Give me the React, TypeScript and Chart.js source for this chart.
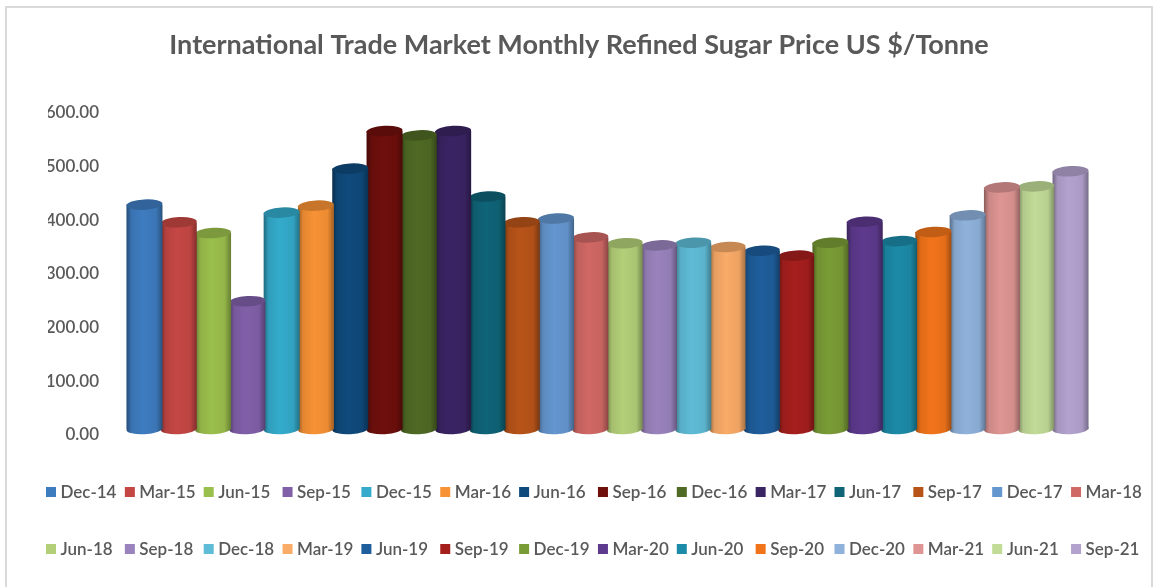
import React, { useEffect, useRef } from "react";
import { Chart, registerables } from "chart.js";

Chart.register(...registerables);

const categories = ["Refined Sugar Price"];
const periods = [
  "Dec-14", "Mar-15", "Jun-15", "Sep-15", "Dec-15", "Mar-16", "Jun-16", "Sep-16", "Dec-16", "Mar-17", "Jun-17", "Sep-17", "Dec-17", "Mar-18",
  "Jun-18", "Sep-18", "Dec-18", "Mar-19", "Jun-19", "Sep-19", "Dec-19", "Mar-20", "Jun-20", "Sep-20", "Dec-20", "Mar-21", "Jun-21", "Sep-21",
];
const prices = [
  418, 385, 365, 238, 403, 416, 485, 555, 547, 555, 433, 385, 392, 357,
  346, 342, 347, 339, 332, 323, 347, 386, 350, 367, 398, 450, 452, 480,
];
const colors = [
  "#3E7CC0", "#C54744", "#9BBF4C", "#8160A9", "#34ABCB", "#F79235", "#0F4A7C", "#6F0F0C", "#4F6A24", "#3B2464", "#0F6478", "#B85419", "#6496CF", "#D06865",
  "#B3CF78", "#9A83BD", "#5FBCD6", "#F9AB68", "#1E5E9C", "#A51F1D", "#7A9C36", "#5E3A8E", "#1C8BA8", "#F2741A", "#8FB2DC", "#DE9593", "#C2DB97", "#B3A2CE",
];
const titleText = "International Trade Market Monthly Refined Sugar Price US $/Tonne";
const TEXT = "#595959";
const FONT = "Lato";

function shade(hex: string, f: number) {
  const n = parseInt(hex.slice(1), 16);
  const c = [(n >> 16) & 255, (n >> 8) & 255, n & 255].map((v) => Math.round(v * f));
  return `rgb(${c[0]},${c[1]},${c[2]})`;
}

const TILT = -0.055;
const RY = 5.2;

function bodyGradient(ctx: CanvasRenderingContext2D, x: number, w: number, col: string) {
  const g = ctx.createLinearGradient(x - w / 2, 0, x + w / 2, 0);
  g.addColorStop(0, shade(col, 0.62));
  g.addColorStop(0.14, shade(col, 0.92));
  g.addColorStop(0.45, shade(col, 1));
  g.addColorStop(0.82, shade(col, 0.95));
  g.addColorStop(1, shade(col, 0.66));
  return g;
}

const cylinder = {
  id: "cylinder",
  beforeDatasetDraw(chart: any, args: any) {
    const ctx = chart.ctx;
    const el = args.meta.data[0];
    const col = colors[args.index];
    const { x, base, width } = el.getProps(["x", "base", "width"], true);
    const g = bodyGradient(ctx, x, width, col);
    el.options = { ...el.options, backgroundColor: g, borderWidth: 0 };
    ctx.save();
    ctx.fillStyle = g;
    ctx.beginPath();
    ctx.ellipse(x, base, width / 2, RY, TILT, 0, Math.PI * 2);
    ctx.fill();
    ctx.restore();
  },
  afterDatasetDraw(chart: any, args: any) {
    const ctx = chart.ctx;
    const el = args.meta.data[0];
    const col = colors[args.index];
    const { x, y, width } = el.getProps(["x", "y", "width"], true);
    ctx.save();
    ctx.fillStyle = shade(col, 0.8);
    ctx.beginPath();
    ctx.ellipse(x, y, width / 2, RY, TILT, 0, Math.PI * 2);
    ctx.fill();
    ctx.restore();
  },
};

const LEGEND_LEFT = 46;
const LEGEND_STEP = 78.85;
const LEGEND_ROWS = [492, 549];
const LEGEND_PER_ROW = 14;

const gridLegend = {
  id: "gridLegend",
  afterDraw(chart: any) {
    const ctx = chart.ctx;
    ctx.save();
    ctx.font = `600 17px ${FONT}`;
    ctx.textBaseline = "middle";
    ctx.textAlign = "left";
    chart.data.datasets.forEach((ds: any, i: number) => {
      const col = i % LEGEND_PER_ROW;
      const row = Math.floor(i / LEGEND_PER_ROW);
      const x = LEGEND_LEFT + col * LEGEND_STEP;
      const y = LEGEND_ROWS[row];
      ctx.fillStyle = colors[i];
      ctx.fillRect(x, y - 5, 10, 10);
      ctx.fillStyle = TEXT;
      ctx.fillText(ds.label, x + 14.5, y + 1);
    });
    ctx.restore();
  },
};

export default function App() {
  const ref = useRef<HTMLCanvasElement>(null);
  useEffect(() => {
    document.body.style.margin = "0";
    const chart = new Chart(ref.current!, {
      type: "bar",
      data: {
        labels: categories,
        datasets: periods.map((p, i) => ({
          label: p,
          data: [prices[i]],
          backgroundColor: colors[i],
          yAxisID: "yBars",
          barPercentage: 1.05,
          categoryPercentage: 0.9556,
        })),
      },
      plugins: [cylinder, gridLegend],
      options: {
        animation: false,
        responsive: false,
        devicePixelRatio: 1,
        layout: { padding: { top: 10, left: 48, right: 43, bottom: 152 } },
        plugins: {
          legend: { display: false },
          tooltip: { enabled: false },
          title: {
            display: true,
            text: titleText,
            color: TEXT,
            font: { family: FONT, size: 27, weight: "bold", lineHeight: 1.2 },
            padding: { top: 19, bottom: 51.5 },
          },
        },
        scales: {
          x: { display: false },
          y: {
            min: 0,
            max: 600,
            position: "left",
            border: { display: false },
            grid: { display: false, drawTicks: false },
            afterFit(s: any) {
              s.width = 57;
            },
            ticks: {
              stepSize: 100,
              padding: 6,
              color: TEXT,
              font: { family: FONT, size: 17, weight: 600 },
              callback: (v: any) => Number(v).toFixed(2),
            },
          },
          // the cylinders stand on a floor drawn slightly above the printed 0.00 tick
          yBars: { display: false, min: -11.2, max: 588.8 },
        },
      },
    } as any);
    return () => chart.destroy();
  }, []);
  return (
    <div style={{ position: "relative", width: 1153, height: 587, overflow: "hidden", background: "#fff" }}>
      <canvas ref={ref} width={1153} height={587} style={{ display: "block", filter: "blur(0.45px)" }} />
      <div
        style={{
          position: "absolute",
          left: 5,
          top: 6,
          width: 1144,
          height: 600,
          border: "2px solid #d9d9d9",
          pointerEvents: "none",
        }}
      />
    </div>
  );
}
